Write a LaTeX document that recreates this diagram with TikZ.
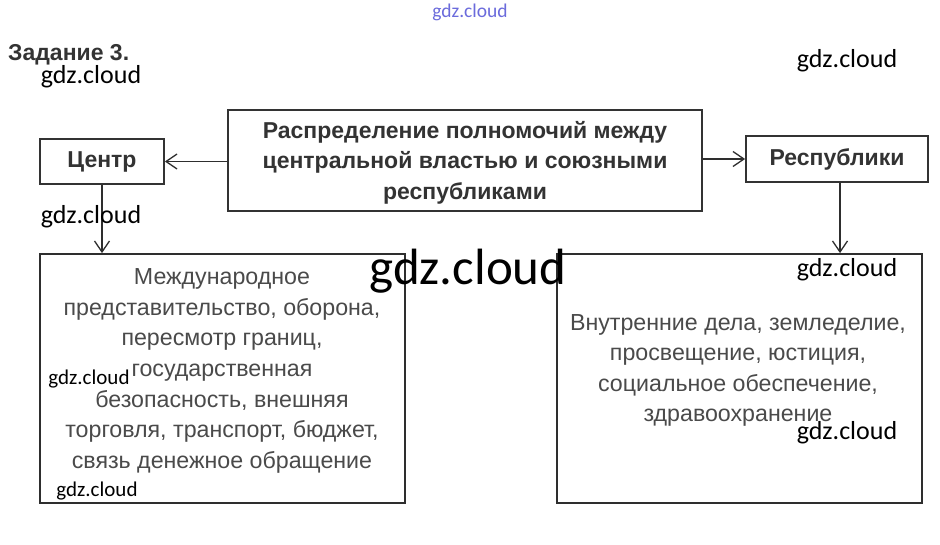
\documentclass[tikz,border=0pt]{standalone}
\usepackage{fontspec}
\setmainfont{Liberation Sans}
\newfontfamily\wmfont{Carlito}
\usetikzlibrary{arrows.meta, positioning}
\definecolor{frameGrey}{HTML}{2E2E2E}
\definecolor{headGrey}{HTML}{333333}
\definecolor{bodyGrey}{HTML}{4A4A4A}
\definecolor{wmBlue}{HTML}{3A3AD0}
\tikzset{
  boxnode/.style  = {draw=frameGrey, line width=1.8pt, inner sep=0pt},
  headtxt/.style  = {headGrey, font=\fontsize{23}{30.5}\selectfont\bfseries, align=center},
  bodytxt/.style  = {bodyGrey, font=\fontsize{23.2}{30.6}\selectfont, align=center},
  arr/.style      = {-{Straight Barb[length=11pt, width=15pt, line width=1.3pt]},
                     line width=1.6pt, frameGrey},
  wmark/.style    = {font=\wmfont\fontsize{#1}{#1}\selectfont, black, inner sep=0pt},
}

\begin{document}
\begin{tikzpicture}[x=1pt, y=-1pt]
  \useasboundingbox[fill=white] (0,0) rectangle (940,544);
  % heading
  \node[headtxt, anchor=west, inner sep=0pt] (task) at (8,55) {Задание 3.};
  % top row
  \node[boxnode, minimum width=474pt, minimum height=101pt, headtxt, text depth=0.5pt] (main) at (465,160.5)
    {Распределение полномочий между\\центральной властью и союзными\\республиками};
  \node[boxnode, minimum width=124pt, minimum height=45pt, headtxt] (centr) at (102,161.5) {Центр};
  \node[boxnode, minimum width=182pt, minimum height=46pt, headtxt] (resp) at (837,159) {Республики};
  % lower boxes
  \node[boxnode, minimum width=365pt, minimum height=249pt] (cbox) at (222.5,378.5) {};
  \node[boxnode, minimum width=365pt, minimum height=249pt] (rbox) at (739.5,378.5) {};
  \node[bodytxt] (ctxt) at (222,371)
    {Международное\\представительство, оборона,\\пересмотр границ,\\государственная\\безопасность, внешняя\\торговля, транспорт, бюджет,\\связь денежное обращение};
  \node[bodytxt] (rtxt) at (738,370.5)
    {Внутренние дела, земледелие,\\просвещение, юстиция,\\социальное обеспечение,\\здравоохранение};
  % connectors
  \draw[arr] (main.west |- centr.east) -- (centr.east);
  \draw[arr] (main.east |- resp.west) -- (resp.west);
  \draw[arr] (centr.south) -- (centr.south |- cbox.north);
  \draw[arr] ([xshift=3pt]resp.south) -- ([xshift=3pt]resp.south |- rbox.north);
  % watermarks
  \node[wmark=19.5, wmBlue!75] (wm0) at (470,12) {gdz.cloud};
  \node[wmark=26] (wm1) at (91,77) {gdz.cloud};
  \node[wmark=26] (wm2) at (847,61) {gdz.cloud};
  \node[wmark=26] (wm3) at (91,217) {gdz.cloud};
  \node[wmark=51] (wm4) at (468,271) {gdz.cloud};
  \node[wmark=26] (wm5) at (847,270) {gdz.cloud};
  \node[wmark=21] (wm6) at (89,379) {gdz.cloud};
  \node[wmark=21] (wm7) at (97,491) {gdz.cloud};
  \node[wmark=26] (wm8) at (847,433) {gdz.cloud};
\end{tikzpicture}
\end{document}
